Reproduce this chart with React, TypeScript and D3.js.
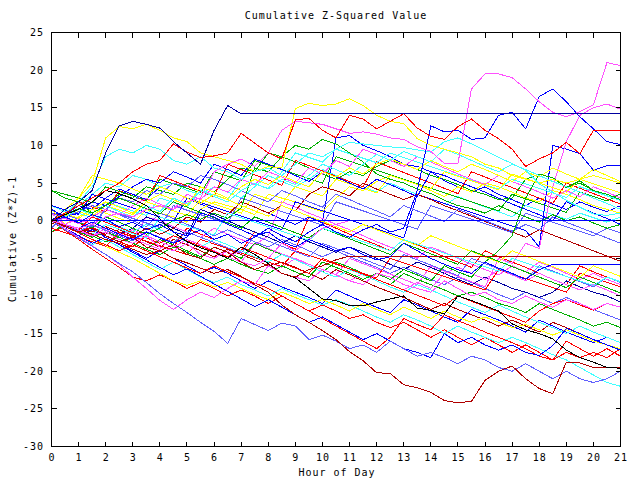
import React from 'react';
import * as d3 from 'd3';

// chart text
const TITLE = 'Cumulative Z-Squared Value';
const X_LABEL = 'Hour of Day';
const Y_LABEL = 'Cumulative (Z*Z)-1';
const X_TICKS = [0, 1, 2, 3, 4, 5, 6, 7, 8, 9, 10, 11, 12, 13, 14, 15, 16, 17, 18, 19, 20, 21];
const Y_TICKS = [-30, -25, -20, -15, -10, -5, 0, 5, 10, 15, 20, 25];

// sample times (hours)
const HOURS = [0, 0.5, 1, 1.5, 2, 2.5, 3, 3.5, 4, 4.5, 5, 5.5, 6, 6.5, 7, 7.5, 8, 8.5, 9, 9.5, 10, 10.5,
  11, 11.5, 12, 12.5, 13, 13.5, 14, 14.5, 15, 15.5, 16, 16.5, 17, 17.5, 18, 18.5, 19, 19.5, 20, 20.5, 21];

// series values, one per half hour
const navyHigh = [0, 1.5, 2.5, 4, 9, 12.6, 13.2, 12.8, 12.3, 10.5, 9, 7.5, 12, 15.3, 14.2, 14.2, 14.2, 14.2, 14.2, 14.2, 14.2, 14.2,
  14.2, 14.2, 14.2, 14.2, 14.2, 14.2, 14.2, 14.2, 14.2, 14.2, 14.2, 14.2, 14.2, 14.2, 14.2, 14.2, 14.2, 14.2, 14.2, 14.2, 14.2];
const blueZero = [0, 0, 0, 0, 0, 0, 0, 0, 0, 0, 0, 0, 0, 0, 0, 0, 0, 0, 0, 0, 0, 0,
  0, 0, 0, 0, 0, 0, 0, 0, 0, 0, 0, 0, 0, 0, 0, 0, 0, 0, 0, 0, 0];
const magentaZero = [0, -0.5, -1.2, -2, -1.5, -2.5, -3, -2, -3.5, -4, -3, -4.5, -5, -4, -5.5, -6, -5, -3, -4, -2.5, -1, -0.5,
  0, 0, 0, 0, 0, 0, 0, 0, 0, 0, 0, 0, 0, 0, 0, 0, 0, 0, 0, 0, 0];
const darkRedFlat = [0, -0.8, -1.5, -1, -2, -2.8, -2.2, -3.5, -4, -3.2, -4.5, -5, -3.5, -4.2, -5.5, -6.5, -5.8, -7, -7.5, -6.5, -6, -5.2,
  -4.7, -4.7, -4.7, -4.7, -4.7, -4.7, -4.7, -4.7, -4.7, -4.7, -4.7, -4.7, -4.7, -4.7, -4.7, -4.7, -4.7, -4.7, -4.7, -4.7, -4.7];
const blueFlat = [0, -0.5, -1, -0.2, -1, -1.8, -2.5, -1.5, -2.3, -3, -2.2, 1, 0.5, -0.5, -1.2, -2, -1.5, -2.8, -3.5, -2.5, -3.2, -4,
  -3.5, -4.5, -5.2, -4.8, -3, -4, -5, -5.8, -6.5, -7, -5.5, -6.3, -7, -7.8, -6.5, -5.8, -5.8, -5.8, -5.8, -5.8, -5.8];
const redHigh = [0, 1, 2, 3, 4, 5, 6.5, 7.5, 8, 10.2, 9.1, 8.4, 8.6, 9, 11.6, 10.3, 9, 8.2, 13.4, 13.6, 12, 11,
  14, 13.5, 12.2, 13.2, 14.2, 12.3, 11.2, 10.8, 12.5, 13.5, 12, 10.9, 9.5, 7.2, 8.2, 9, 10.4, 8.9, 12, 12, 12];
const magentaHigh = [0, -0.5, -1, -0.5, 0.5, 1, 0.5, 1.5, 2, 1.5, 2.5, 3, 6.5, 7.5, 8.2, 7.2, 9, 12, 13.2, 13, 12.8, 12.2,
  11.6, 11.8, 11.5, 11, 10.8, 9.8, 9.2, 7.6, 7.6, 17.5, 19.5, 19.5, 19, 17.5, 15.8, 14.4, 13.8, 14.5, 15.4, 21, 20.6];
const blueLate = [0, 0.5, -0.3, 0.8, 0.2, -0.8, -0.2, -1.2, -0.5, -1.5, -2, -1.2, -2.5, -1.8, -3, -2.2, -1, -2, -2.8, -1.5, -0.5, -1.5,
  -2.2, -1.2, -0.5, -1.5, -1, 4, 12.6, 11.8, 12, 10.8, 11, 14, 14.4, 12.2, 16.5, 17.5, 15.8, 13.8, 12.2, 10.5, 10.1];
const yellowHigh = [0, 1.5, 3, 5, 11, 12.5, 12.2, 12.8, 12, 11, 10.5, 9, 8.5, 8, 7.5, 6.5, 7.2, 7, 14.9, 15.6, 15.3, 15.5,
  16.2, 15.3, 14, 13.2, 12.9, 10.9, 10, 9.5, 9, 8.5, 7.5, 7, 6, 5.5, 5, 5.5, 5, 5.5, 6, 5.5, 5];
const cyanHigh = [0, 1, 2.5, 4.5, 8.5, 9.5, 9, 10, 9.5, 8, 7.5, 8.5, 7, 6.5, 5.5, 6.5, 7, 6, 7.5, 9, 8.5, 9.5,
  10.4, 10.2, 10, 9.8, 9.7, 9.4, 9.1, 10.5, 11, 10.2, 9.3, 8.4, 7.6, 6.7, 4.9, 3.8, 2.7, 1.8, 0.9, 0.7, 1];
const darkRedLow = [0, -0.6, -1.2, -1.8, -2.5, -3, -3.8, -4.5, -4, -5, -5.6, -6.3, -7, -6.5, -7.4, -8.5, -9.5, -11.2, -12.5, -13.5, -14.6, -15.8,
  -17.4, -18.6, -20.2, -20.3, -21.8, -22.2, -22.8, -23.9, -24.2, -24, -21.2, -20, -19.3, -21, -22.3, -23, -18.8, -18.9, -19.5, -19.5, -19.5];
const slateLow = [0, -1.2, -2.3, -3.4, -4.5, -5.7, -6.8, -8.2, -9.7, -11, -12.2, -13.5, -14.7, -16.3, -13, -13.8, -14.6, -13.6, -14, -15.8, -15.2, -16,
  -17, -16.5, -17.5, -16, -17, -18, -17.5, -18.2, -19, -18, -18.5, -19.5, -20, -19, -20, -21, -20, -21, -21.5, -21, -20];
const magentaLow = [0, -1, -2.2, -3.3, -4.5, -5.8, -7.5, -9, -10.6, -11.8, -10.5, -9.5, -10.2, -9, -8, -8.5, -6, -7, -7.5, -8, -6.5, -7.2,
  -8, -8.5, -7, -7.5, -8.5, -9, -9.5, -8, -9, -10, -9.5, -10.5, -11, -10, -10.8, -11.5, -10.5, -11, -11.8, -11, -11.5];
const blackLine = [0, 0.8, 1.5, 2.5, 4, 3.6, 2.9, 2, 0.2, -1.5, -2.8, -3.6, -4.2, -5, -3.5, -4.5, -5.7, -7, -7.6, -9, -10.4, -10.6,
  -11.3, -11.3, -10.8, -10.4, -10, -11.6, -11.9, -12.4, -10, -10.6, -11.3, -12, -13.7, -14.5, -15, -15.7, -17.2, -18.2, -18.8, -19.5, -19.6];
const greenA = [4, 3, 2.5, 1, 2, 3.5, 3, 4.5, 4, 3.5, 5, 4.5, 3.8, 5.5, 7, 6.5, 9, 8.5, 7.8, 7, 6.2, 5.5,
  6.5, 6, 7.2, 8, 7.5, 6.8, 6, 5.5, 4.8, 4, 3.5, 2.8, 3, 5.5, 6.2, 5.7, 4.4, 5, 4, 3.5, 2.8];
const cyanA = [2, 1.2, 2, 3.5, 5, 4.5, 6, 5.5, 4.5, 5, 4, 3.5, 4.5, 3.8, 3, 4.5, 6, 5.2, 4.5, 5.5, 6.8, 6,
  5.2, 4.5, 3.8, 5, 4.2, 3.5, 2.8, 2, 3.2, 2.5, 1.8, 1.2, 0.5, 2, 1.4, 0.8, 0.2, 1, 0.4, -0.2, 0.5];
const blueA = [1, 0.8, 2, 1.5, 3, 4.2, 3.5, 2.8, 4.5, 3.8, 3, 2.2, 1.5, 0.8, 2.5, 1.8, 1, 0.2, -0.5, 0.5, -0.3, 11,
  11.3, 10, 9.3, 8.5, 7.5, 7.2, 6.5, 5.3, 4.5, 3.8, 4.5, 3.5, 2.8, 2, 3, 2.2, 1.5, 2.5, 1.8, 1.2, 2];
const blueB = [1.5, 0.5, 1, 2.5, 2, 3.2, 4.5, 5.5, 5, 6.5, 5.8, 5, 7.5, 6.8, 6, 8.2, 7.5, 6.8, 6, 5.2, 6.5, 5.8,
  5, 4.2, 5.5, 4.8, 4, 3.2, 6.5, 6, 5.2, 4.5, 3.8, 3, 2.2, 1.5, 0.8, 0, 2.5, 1.8, 1, 0.3, -0.5];
const yellowA = [1.5, -0.5, 0.5, 1.5, 1, 0.3, -0.3, 1.5, 1, 0.5, -0.2, 1.5, 2.5, 2, 1.5, 0.8, 3.5, 3, 2.5, 1.8, 1.2, 3,
  4.5, 4, 5.2, 6, 5.5, 4.8, 4, 3.2, 4.5, 3.8, 5, 4.5, 3.8, 3, 2.5, 4, 3.5, 2.8, 2, 1.5, 1];
const redA = [-1.5, -0.8, -1.5, -0.8, -2, -2.8, -3.5, -2, -2.8, -3.5, -1, -1.8, -2.5, -3.2, -4, -1.5, -2.2, -3, -3.8, 0.5, -0.2, -1,
  -1.8, -2.5, -3.2, -4, -2.5, -3.2, -4, -4.8, -5.5, -6.2, -4, -4.8, -5.5, -6.2, -7, -7.8, -8.5, -6, -6.8, -7.5, -8.2];
const greenB = [-1.5, -0.5, -1.2, -2, -2.8, -2.2, -3, -3.8, -2.5, -3.2, -4, -4.8, -3.5, -4.2, -5, -3, -3.8, -4.5, -5.2, -6, -6.8, -5.5,
  -6.2, -7, -7.8, -8.5, -7, -7.8, -8.5, -9.2, -10, -9.5, -10.2, -11, -11.5, -12.2, -11, -11.8, -12.5, -13.2, -14, -13.5, -14.2];
const blueC = [0, -1, -2, -1.2, -2.2, -3.2, -4, -5, -4, -5, -6, -7, -6.2, -7, -8, -9, -8, -8.8, -9.5, -10.2, -11, -9.2,
  -10, -10.8, -11.5, -12.2, -10.5, -11.2, -12, -12.8, -13.5, -11.8, -12.5, -13.2, -14, -14.8, -13.2, -14, -14.8, -15.5, -16.2, -15.5, -16.2];
const magentaA = [1, -0.6, -1.3, -2, -1, -1.8, -2.5, 0.5, 0, -0.8, -1.5, -2.2, -1, -1.8, -2.5, -3.2, -2, 2.5, 1.8, 1, 0.3, -0.5,
  -1.2, -2, -2.8, -3.5, -4.2, -5, -3.5, -4.2, -5, -5.8, -6.5, -7.2, -6, -6.8, -5.5, -6.2, -7, -7.8, -7, -7.8, -8.5];
const cyanLow = [0, -1.2, -2.3, -3.2, -2.5, -3.5, -4.5, -5.5, -6.5, -5.5, -6.5, -7.5, -8.2, -7.5, -8.5, -9.2, -10, -9, -9.8, -10.5, -11.2, -10.5,
  -11.2, -12, -12.8, -13.5, -12.5, -13.2, -14, -15, -14, -14.8, -15.5, -16.2, -15.5, -16.2, -17, -17.8, -18.5, -19.5, -20.5, -21.5, -22];
const darkRedA = [-0.5, 0.5, -0.3, -1, -1.8, -1.2, -2, -2.8, -3.5, -2.5, -3.2, -4, -4.8, -3.8, -4.5, -5.2, -6, -5.5, -6.2, -7, -7.8, -6.5,
  -7.2, -8, -8.8, -9.5, -10.2, -11, -11.8, -11, -11.8, -12.5, -13.2, -14, -13.2, -14, -14.8, -13.5, -14.2, -15, -15.8, -16.5, -17];
const yellowLow = [0, -0.8, -1.6, -2.5, -3.4, -4.2, -5, -6, -7, -8, -8.6, -8, -8.8, -8.2, -9, -9.8, -10.5, -9.5, -10.2, -11, -10.5, -11.2,
  -12, -11, -11.8, -12.5, -11.5, -12.2, -13, -12, -12.8, -13.5, -12.8, -13.5, -14.2, -13.8, -14.5, -15.2, -14.5, -15.2, -16, -16.5, -17];
const slateA = [-1, 0.8, 0.2, -0.5, 1.5, 0.8, 0, -0.8, 1, 0.3, -0.5, -1.2, -2, -1.2, -2, -2.8, -3.5, -2.5, -3.2, -4, -4.8, -4,
  -4.8, -5.5, -6.2, -7, -6.2, -7, -7.8, -8.5, -7.5, -8.2, -9, -9.8, -10.5, -9.5, -10.2, -11, -10.2, -11, -11.8, -12.5, -13.2];
const navyA = [0, -0.5, -1, -0.2, -1, -1.8, -1, 0.5, -0.2, -1, -1.8, 1.5, 0.8, 0, -0.8, -1.5, -2.2, -3, -2, -2.8, -3.5, -4.2,
  -3.5, -4.2, -5, -5.8, -6.5, -5.5, -6.2, -7, -7.8, -8.5, -7.5, -8.2, -9, -9.5, -10.2, -9.5, -8, -8.8, -9.5, -10, -10.8];
const redLow = [0, -1.3, -2.5, -3.8, -5, -6.2, -7.5, -8, -7.2, -8, -9, -8.2, -9, -10, -9.2, -10, -11, -10, -11, -12, -11.2, -12,
  -13, -12.5, -13.5, -14.2, -13.5, -14.5, -15.5, -14.5, -15.5, -16.5, -15.5, -16.5, -17.5, -16.5, -17.5, -18.5, -16, -17, -18, -17, -18];
const redB = [0, -0.8, -1.6, -2.5, -3.2, -4, -3.2, -4, -4.8, -5.5, -6.3, -7, -6, -6.8, -7.5, -8.3, -9, -10, -11, -12, -13, -14,
  -15, -16, -17, -15.5, -13, -13.8, -14.5, -12.5, -13.3, -14, -14.8, -15.5, -16.2, -17, -18, -18.5, -17.5, -18.2, -17.5, -18.2, -17];
const greenC = [0, 0.5, -0.2, -1, 0.5, -0.2, -1, -1.8, -1, 0, 0.8, 0.2, 1, 0.3, 1.7, 7, 6.5, 8.5, 10, 9.5, 10.8, 10.2,
  9, 7.8, 6.2, 5.5, 5, 4.2, 3.6, 2.7, 2, 1.6, 1, 2, 1.2, 0.5, -0.2, 0.8, 0, 0.5, -0.3, -1, -0.5];
const greenD = [0, -0.8, -1.5, -2.2, -1.5, -2.2, -3, -3.8, -4.5, -3.5, -4.2, -5, -5.8, -5, -5.8, -6.5, -7, -6, -6.8, -7.5, -5.5, -6.2,
  -7, -7.8, -7, -7.8, -6.5, -7.2, -8, -6, -6.8, -7.5, -5.5, -4, -2, 3, 6.2, 5.7, 4.4, 5.3, 4, 3.5, 2.8];
const cyanB = [0, 0.8, 1.5, 0.8, 0, -0.8, -1.5, -0.5, -1.2, -2, -2.8, -3.5, -2.5, -3.2, -4, -4.8, -5.5, -4.5, -5.2, -6, -6.8, -7.5,
  -6.5, -7.2, -8, -8.8, -9.5, -8.5, -9.2, -10, -10.8, -11.5, -12.2, -11.2, -12, -12.8, -13.5, -14.2, -15, -14, -14.8, -15.5, -16.2];
const yellowB = [0, 1, 0.3, 1.5, 2.5, 1.8, 1, 2.5, 3.5, 2.8, 2, 4.5, 3.8, 3, 4.5, 5.5, 4.8, 6, 5.2, 4.5, 6.5, 5.8,
  7, 6.2, 7.5, 8.2, 7.5, 6.8, 8, 7.2, 6.5, 7.5, 6.8, 6, 5.2, 6.5, 5.8, 7, 6.2, 5.5, 6.8, 6, 5.2];
const magentaB = [0, -0.5, 0.3, -0.5, -1.2, -2, -1.2, -2, -2.8, -3.5, -2.5, -3.2, -4, -4.8, -4, -4.8, -5.5, -6.2, -5, -5.8, -6.5, -7.2,
  -8, -7, -7.8, -8.5, -9.2, -8.2, -9, -7, -6.2, -7, -7.8, -6.5, -7.2, -8, -7, -7.8, -8.5, -9.2, -8.5, -9.2, -10];
const slateB = [0, 0.5, 1.2, 2, 1.5, 3, 2.5, 4, 3.5, 5, 4.5, 6, 5.5, 4.8, 4, 3.2, 2.5, 4, 3.3, 2.5, 1.8, 3.5,
  2.8, 2, 1.3, 0.5, 2, 1.3, 0.6, -0.1, 1.5, 0.8, 0, -0.7, -1.4, -0.5, -1.2, 0.5, -0.2, -0.9, -1.6, -2.3, -3];
const darkRedB = [0, -0.5, -1, -1.5, -0.8, -1.5, -2.2, -1, -1.8, -1, 0.5, -0.2, 1.5, 0.8, 2.5, 1.8, 1, 2, 1.3, 3.5, 4.5, 4,
  3.3, 5, 4.2, 3.5, 2.8, 3.5, 2.8, 2, 1.3, 0.6, -0.1, -0.8, -1.5, -2.2, -1.2, -1.9, -2.6, -3.3, -4, -4.7, -5.4];
const redC = [0, -0.6, -1.2, 0.5, -0.2, -0.9, -1.6, -2.3, -3, -2, -2.7, -3.4, -4.1, -4.8, -3.5, -4.2, -4.9, -5.6, -6.3, -7, -5, -5.7,
  -6.4, -7.1, -7.8, -8.5, -9.2, -9.9, -10.6, -11.3, -10, -10.7, -11.4, -12.1, -12.8, -13.5, -12, -11, -10.5, -11.2, -11.9, -11, -11.5];
const blueLow = [0, -1, -2, -3, -2.2, -3.2, -4.2, -5.2, -6.2, -7.2, -6.4, -7.4, -8.4, -9.4, -10.4, -11.4, -10.5, -11.5, -12.5, -13.5, -12.8, -13.8,
  -14.8, -15.8, -15, -16, -17, -17.5, -18.2, -15, -16.2, -15.5, -16.5, -17.2, -16.5, -17.5, -17.9, -16.6, -14.3, -15, -15.8, -16.5, -17.2];
const cyanC = [0, 0.5, 1.5, 1, 2, 1.2, 0.5, 2, 1.2, 3, 2.2, 4, 3.2, 2.5, 4, 5, 4.2, 5.5, 4.8, 6, 7.5, 6.8,
  6, 7.5, 8.8, 8, 9.2, 8.5, 7.8, 9.5, 8.8, 8, 7.2, 6.5, 7.5, 6.8, 6, 5.2, 4.5, 3.8, 3, 2.3, 1.5];
const magentaC = [0, 0.3, -0.4, 0.5, 1.5, 0.8, 2, 3, 2.2, 1.5, 3.5, 2.8, 4.5, 3.8, 5.5, 4.8, 6.5, 5.8, 5, 7, 6.2, 8,
  7.2, 9.5, 8.8, 8, 7.2, 8.5, 7.8, 7, 6.2, 5.5, 4.8, 6, 5.2, 4.5, 3.8, 3, 4, 3.2, 4.5, 3.8, 3];
const slateC = [0, -0.7, -1.4, -0.6, -1.3, -2, -2.7, -1.5, -2.2, -2.9, -1.5, -2.2, -2.9, -3.6, -4.3, -2, -2.7, -3.4, -4.1, -4.8, -3, -3.7,
  -4.4, -5.1, -5.8, -6.5, -4.5, -5.2, -5.9, -6.6, -7.3, -5, -5.7, -6.4, -7.1, -7.8, -6, -6.7, -7.4, -8.1, -8.8, -7.5, -8.2];
const greenE = [0, 0.8, 1.6, 1, 2, 3, 2.3, 1.6, 0.9, 2.5, 1.8, 1.1, 0.4, -0.3, -1, 0.5, -0.2, -0.9, -1.6, -2.3, -1, -1.7,
  -2.4, -3.1, -3.8, -4.5, -3, -3.7, -4.4, -5.1, -5.8, -4, -4.7, -5.4, -6.1, -6.8, -7.5, -8.2, -8.9, -7.5, -8.2, -8.9, -9.6];
const cyanD = [0, -0.6, -1.2, -1.8, -0.5, -1.1, -1.7, -2.3, 0.5, -0.1, -0.7, -1.3, -1.9, 1, 0.4, -0.2, -0.8, -1.4, -2, -2.6, -1, -1.6,
  -2.2, -2.8, -3.4, -4, -2.5, -3.1, -3.7, -4.3, -4.9, -5.5, -6.1, -6.7, -5, -5.6, -6.2, -6.8, -7.4, -8, -8.6, -7.5, -8.1];
const yellowC = [0, 1.5, 3, 6, 5.5, 5, 4.2, 3.5, 4.5, 3.8, 3, 2.3, 3.5, 2.8, 2, 1.3, 0.6, 2, 1.3, 0.6, -0.1, -0.8,
  -1.5, -0.5, -1.2, -1.9, -2.6, -3.3, -2, -2.7, -3.4, -4.1, -4.8, -5.5, -4, -4.7, -5.4, -6.1, -6.8, -7.5, -6, -6.7, -7.4];
const redD = [1, 0.5, 2.5, 1.8, 1.2, 4, 3.3, 2.6, 6, 5.3, 4.6, 3.9, 3.2, 7.5, 6.8, 6.1, 5.4, 4.7, 8, 7.3, 6.6, 5.9,
  5.2, 4.5, 7.8, 7.1, 6.4, 5.7, 5, 4.3, 3.6, 6.5, 5.8, 5.1, 4.4, 3.7, 3, 2.3, 5, 4.3, 3.6, 2.9, 2.2];
const blueD = [2, 1.4, 0.8, 3.5, 2.9, 2.3, 1.7, 1.1, 0.5, -0.1, 3, 2.4, 1.8, 1.2, 0.6, 0, -0.6, -1.2, 2.5, 1.9, 1.3, 0.7,
  0.1, -0.5, -1.1, -1.7, -2.3, 3.5, 2.9, 2.3, 1.7, 1.1, 0.5, -0.1, -0.7, -1.3, -3.5, 10, 9.5, 8.9, 6.7, 7.3, 7.3];
const magentaD = [0, -0.7, -1.4, -2.1, -1, -1.7, -2.4, -3.1, -3.8, -2, -2.7, -3.4, -4.1, -4.8, -5.5, -3, -3.7, -4.4, -5.1, -5.8, -6.5, -7.2,
  -5, -5.7, -6.4, -7.1, -7.8, -8.5, -6, -6.7, -7.4, -8.1, -8.8, -5, -5.7, -3, -3.7, 4.5, 10.5, 14, 15, 15.5, 14.8];
const greenF = [4, 3.5, 3, 2.4, 4.5, 3.9, 3.3, 2.7, 5.5, 4.9, 4.3, 3.7, 6.5, 5.9, 5.3, 8, 7.4, 6.8, 6.2, 5.6, 5, 8.5,
  7.9, 7.3, 6.7, 6.1, 5.5, 4.9, 4.3, 3.7, 3.1, 2.5, 1.9, 1.3, 3.5, 2.9, 2.3, 1.7, 1.1, 3.8, 3.2, 2.6, 3.6];
const cyanE = [0, 1.5, 1, 0.4, 2.5, 1.9, 1.3, 0.7, 3, 2.4, 1.8, 4, 3.4, 2.8, 5.5, 4.9, 4.3, 6.5, 9, 8.4, 7.8, 9.5,
  8.9, 8.3, 7.7, 9, 8.4, 7.8, 7.2, 6.6, 6, 5.4, 4.8, 4.2, 5.5, 4.9, 4.3, 3.7, 3.1, 4.5, 3.9, 3.3, 2.7];
const slateD = [1, 0.4, -0.2, -0.8, 1.5, 0.9, 0.3, -0.3, -0.9, 2, 1.4, 0.8, 0.2, -0.4, 3, 2.4, 1.8, 1.2, 0.6, 0, -0.6, 2.5,
  1.9, 1.3, 0.7, 0.1, -0.5, -1.1, 2, 1.4, 0.8, 0.2, -0.4, -1, -1.6, 1, 0.4, -0.2, -0.8, -1.4, -2, -1, -1.6];
const redE = [-1, -1.6, -2.2, -2.8, -3.4, -1.5, -2.1, -2.7, -3.3, -3.9, -4.5, -2.5, -3.1, -3.7, -4.3, -4.9, -5.5, -6.1, -4, -4.6, -5.2, -5.8,
  -6.4, -7, -7.6, -5, -5.6, -6.2, -6.8, -7.4, -8, -8.6, -9.2, -6.5, -7.1, -7.7, -8.3, -8.9, -9.5, -7, -7.6, -8.2, -8.8];
const yellowD = [0, 0.6, 1.2, 0.6, 2, 1.4, 0.8, 2.5, 1.9, 1.3, 0.7, 2.8, 2.2, 1.6, 1, 3.5, 2.9, 2.3, 4.5, 3.9, 3.3, 5.5,
  4.9, 4.3, 3.7, 6, 5.4, 4.8, 4.2, 6.5, 5.9, 5.3, 4.7, 4.1, 6.2, 5.6, 5, 4.4, 3.8, 5.5, 4.9, 4.3, 3.7];

const RED = '#ff0000';
const GREEN = '#00b000';
const BLUE = '#0000ff';
const MAGENTA = '#ff50ff';
const CYAN = '#40ffff';
const DARKRED = '#b00000';
const YELLOW = '#ffff00';
const BLACK = '#000000';
const SLATE = '#6060ff';
const NAVY = '#0000a0';

// draw order: [values, colour]
const SERIES: [number[], string][] = [
  [redA, RED], [greenA, GREEN], [blueA, BLUE], [magentaA, MAGENTA], [cyanA, CYAN], [darkRedA, DARKRED],
  [yellowA, YELLOW], [slateA, SLATE], [navyA, NAVY],
  [redD, RED], [greenF, GREEN], [blueD, BLUE], [magentaD, MAGENTA], [cyanE, CYAN], [yellowD, YELLOW], [slateD, SLATE],
  [redLow, RED], [greenB, GREEN], [blueC, BLUE], [magentaB, MAGENTA], [cyanLow, CYAN], [darkRedB, DARKRED],
  [yellowLow, YELLOW], [slateB, SLATE], [redE, RED],
  [redB, RED], [greenC, GREEN], [blueB, BLUE], [magentaC, MAGENTA], [cyanB, CYAN], [yellowB, YELLOW], [slateC, SLATE],
  [redC, RED], [greenD, GREEN], [blueLow, BLUE], [magentaLow, MAGENTA], [cyanC, CYAN], [yellowC, YELLOW],
  [greenE, GREEN], [cyanD, CYAN], [slateLow, SLATE], [darkRedLow, DARKRED],
  [blackLine, BLACK], [yellowHigh, YELLOW], [cyanHigh, CYAN], [magentaZero, MAGENTA], [darkRedFlat, DARKRED],
  [blueFlat, BLUE], [blueLate, BLUE], [magentaHigh, MAGENTA], [redHigh, RED], [blueZero, BLUE], [navyHigh, NAVY],
];

const FONT = "'DejaVu Sans Mono', 'Liberation Mono', monospace";

export default function App() {
  const left = 51.5, right = 620.5, top = 32.5, bottom = 446.5;
  const x = d3.scaleLinear().domain([0, 21]).range([left, right]);
  const y = d3.scaleLinear().domain([-30, 25]).range([bottom, top]);
  const line = d3.line<number>()
    .x((_, i) => x(HOURS[i]))
    .y(d => y(d));
  const tick = 5;
  const textStyle = { fontFamily: FONT, fontSize: 10, letterSpacing: 1 };

  return (
    <svg width={640} height={480}
      style={{ position: 'absolute', left: 0, top: 0, background: '#fff' }}>
      <rect x={0} y={0} width={640} height={480} fill="#fff" />
      <clipPath id="plot">
        <rect x={left} y={top} width={right - left} height={bottom - top} />
      </clipPath>
      <g clipPath="url(#plot)">
        {SERIES.map(([vals, col], i) => (
          <path key={i} d={line(vals) || ''} fill="none" stroke={col} strokeWidth={1}
            shapeRendering="crispEdges" />
        ))}
      </g>
      <g stroke="#000" strokeWidth={1} shapeRendering="crispEdges">
        <rect x={left} y={top} width={right - left} height={bottom - top} fill="none" />
        {X_TICKS.map(t => (
          <g key={'x' + t}>
            <line x1={x(t)} x2={x(t)} y1={bottom} y2={bottom - tick} />
            <line x1={x(t)} x2={x(t)} y1={top} y2={top + tick} />
          </g>
        ))}
        {Y_TICKS.map(t => (
          <g key={'y' + t}>
            <line x1={left} x2={left + tick} y1={y(t)} y2={y(t)} />
            <line x1={right} x2={right - tick} y1={y(t)} y2={y(t)} />
          </g>
        ))}
      </g>
      <g style={textStyle} fill="#000">
        {X_TICKS.map(t => (
          <text key={'xl' + t} x={x(t) + 0.5} y={461} textAnchor="middle">{t}</text>
        ))}
        {Y_TICKS.map(t => (
          <text key={'yl' + t} x={44} y={y(t) + 3.5} textAnchor="end">{t}</text>
        ))}
        <text x={336} y={19} textAnchor="middle">{TITLE}</text>
        <text x={337} y={476} textAnchor="middle">{X_LABEL}</text>
        <text transform="translate(16,239) rotate(-90)" textAnchor="middle">{Y_LABEL}</text>
      </g>
    </svg>
  );
}
